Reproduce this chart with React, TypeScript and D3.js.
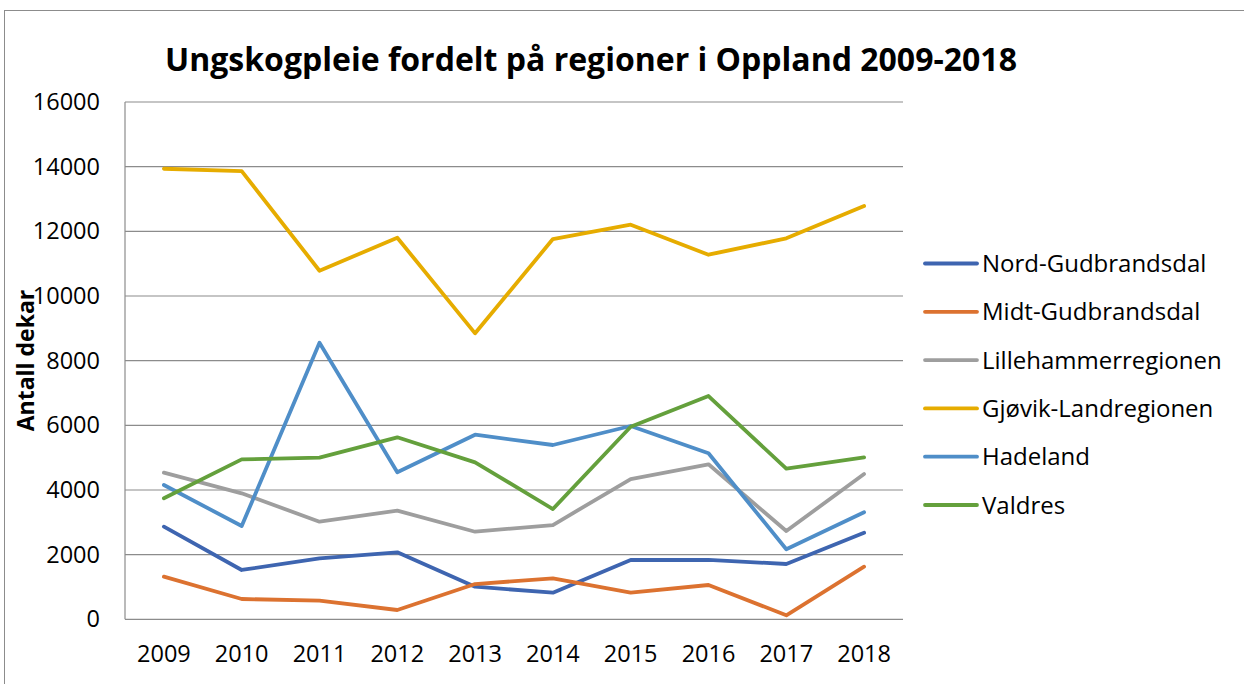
import React from "react";
import * as d3 from "d3";

const years = ["2009","2010","2011","2012","2013","2014","2015","2016","2017","2018"];
const nordGudbrandsdal = [2865, 1525, 1886, 2072, 1008, 823, 1834, 1838, 1710, 2678];
const midtGudbrandsdal = [1318, 628, 575, 288, 1090, 1265, 823, 1061, 124, 1627];
const lillehammerregionen = [4534, 3897, 3019, 3359, 2709, 2916, 4339, 4794, 2731, 4494];
const gjovikLandregionen = [13935, 13864, 10781, 11801, 8845, 11761, 12204, 11276, 11783, 12782];
const hadeland = [4154, 2885, 8554, 4546, 5709, 5391, 5978, 5134, 2165, 3309];
const valdres = [3742, 4948, 4998, 5629, 4855, 3411, 5957, 6906, 4658, 5010];
const yTicks = [0, 2000, 4000, 6000, 8000, 10000, 12000, 14000, 16000];

const seriesNames = ["Nord-Gudbrandsdal","Midt-Gudbrandsdal","Lillehammerregionen","Gjøvik-Landregionen","Hadeland","Valdres"];
const seriesValues = [nordGudbrandsdal, midtGudbrandsdal, lillehammerregionen, gjovikLandregionen, hadeland, valdres];
const seriesColors = ["#3E65B0","#DC7230","#9E9E9E","#E6AC00","#4F8EC8","#64A03C"];

const W = 1244, H = 684;
const plot = { left: 125, right: 903, top: 102, bottom: 619.3 };
const font = "'Open Sans', 'Noto Sans', sans-serif";

export default function App() {
  const x = d3.scaleBand<string>().domain(years).range([plot.left, plot.right]);
  const y = d3.scaleLinear().domain([0, 16000]).range([plot.bottom, plot.top]);
  const line = d3.line<number>()
    .x((_, i) => (x(years[i]) as number) + x.bandwidth() / 2)
    .y((d) => y(d));

  return (
    <svg width={W} height={H} style={{ position: "absolute", left: 0, top: 0, background: "#fff" }}>
      <rect x={4.5} y={10.5} width={W + 20} height={H + 20} fill="#fff" stroke="#8c8c8c" strokeWidth={1} />
      <text x={591} y={71} textAnchor="middle" fontFamily={font} fontWeight={700} fontSize={32} fill="#000">
        Ungskogpleie fordelt på regioner i Oppland 2009-2018
      </text>
      {yTicks.map((t) => (
        <g key={t}>
          {t > 0 && (
            <line x1={plot.left} x2={plot.right} y1={y(t)} y2={y(t)} stroke="#8c8c8c" strokeWidth={1.2} />
          )}
          <text x={100} y={y(t) + 8} textAnchor="end" fontFamily={font} fontSize={23.5} fill="#000">
            {t}
          </text>
        </g>
      ))}
      <line x1={plot.left} x2={plot.left} y1={plot.top} y2={plot.bottom} stroke="#8c8c8c" strokeWidth={1.2} />
      <line x1={plot.left} x2={plot.right} y1={plot.bottom} y2={plot.bottom} stroke="#8c8c8c" strokeWidth={1.2} />
      {years.map((yr) => (
        <text key={yr} x={(x(yr) as number) + x.bandwidth() / 2} y={662} textAnchor="middle" fontFamily={font} fontSize={23.5} fill="#000">
          {yr}
        </text>
      ))}
      <text transform="translate(34,360.5) rotate(-90)" textAnchor="middle" fontFamily={font} fontWeight={700} fontSize={23} fill="#000">
        Antall dekar
      </text>
      {seriesValues.map((vals, i) => (
        <path key={seriesNames[i]} d={line(vals) || ""} fill="none" stroke={seriesColors[i]} strokeWidth={3.8} strokeLinejoin="round" strokeLinecap="round" />
      ))}
      {seriesNames.map((name, i) => {
        const ly = 263.5 + i * 48.3;
        return (
          <g key={name}>
            <line x1={925} x2={977} y1={ly} y2={ly} stroke={seriesColors[i]} strokeWidth={3.8} strokeLinecap="round" />
            <text x={982} y={ly + 8.5} fontFamily={font} fontSize={24} fill="#000">{name}</text>
          </g>
        );
      })}
    </svg>
  );
}
